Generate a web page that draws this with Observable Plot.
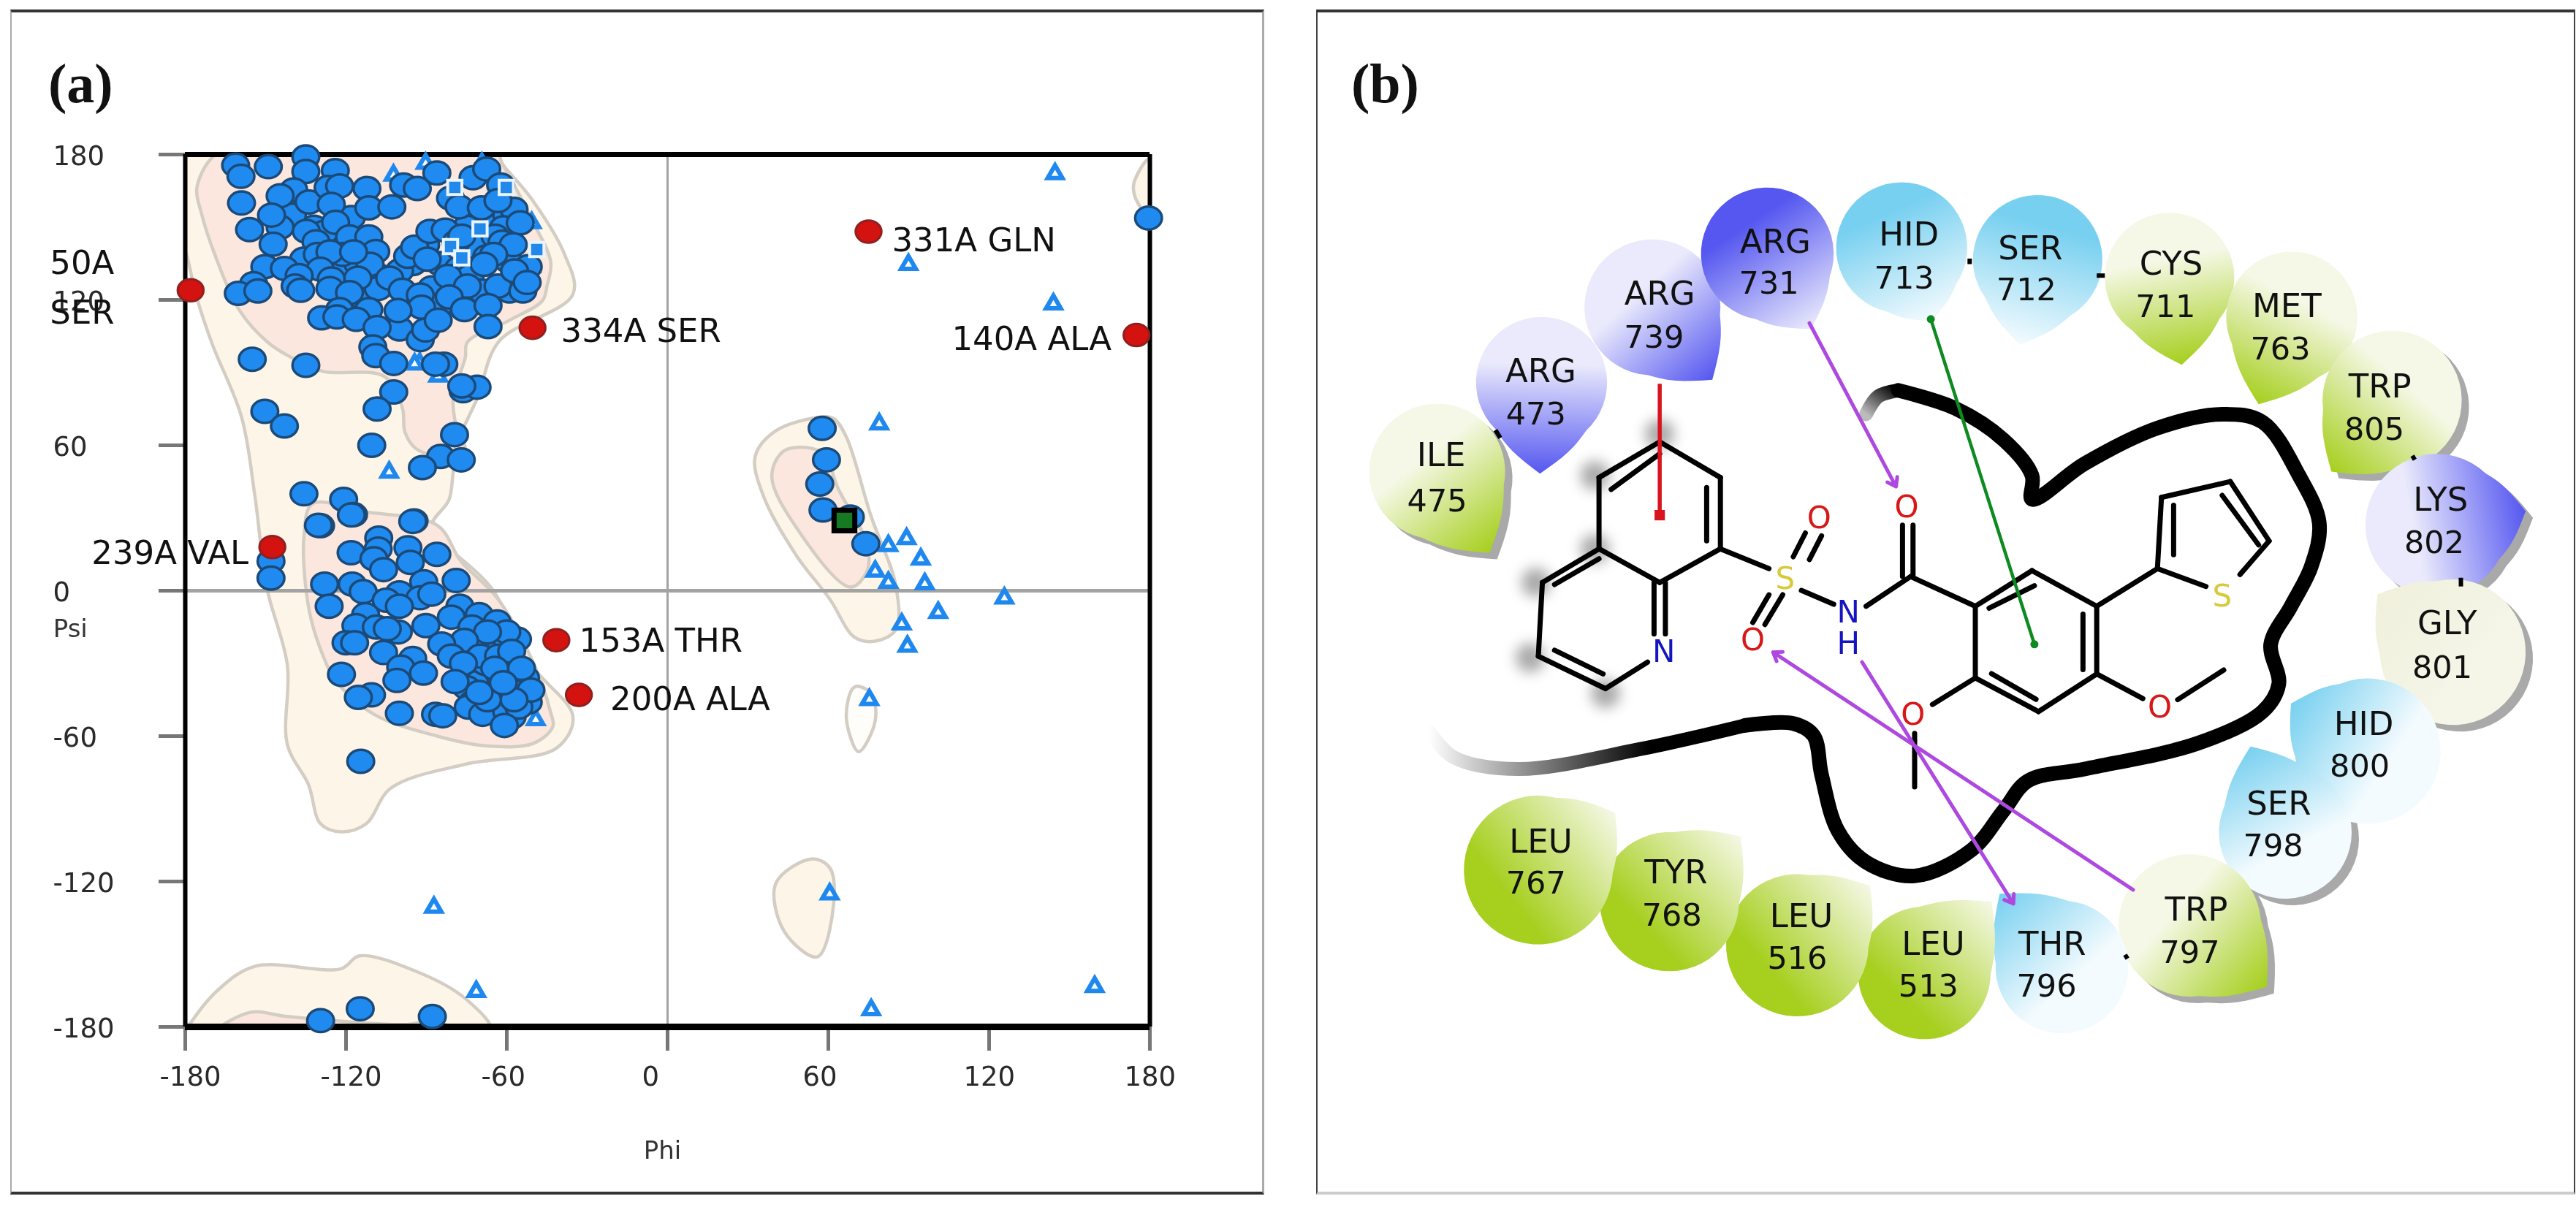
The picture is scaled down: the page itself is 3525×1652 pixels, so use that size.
<!DOCTYPE html>
<html><head><meta charset="utf-8">
<script src="https://cdn.jsdelivr.net/npm/d3@7"></script>
<script src="https://cdn.jsdelivr.net/npm/@observablehq/plot@0.6"></script>
<style>
html,body{margin:0;background:#fff;width:3525px;height:1652px;overflow:hidden}
.p{position:absolute;box-sizing:border-box}
.h{position:absolute;font:bold 76px "Liberation Serif";color:#111;line-height:76px}
svg{filter:blur(.7px)}
</style></head><body>
<div class="p" style="left:14px;top:13px;width:1716px;height:1622px;border-top:4px solid #333;border-bottom:4px solid #333;border-left:2px solid #aaa;border-right:3px solid #aaa"></div>
<div class="p" style="left:1801px;top:13px;width:1723px;height:1622px;border-top:4px solid #333;border-bottom:4px solid #ccc;border-left:2px solid #444;border-right:2px solid #444"></div>
<div class="h" style="left:66px;top:76px">(a)</div>
<div class="h" style="left:1849px;top:76px">(b)</div>
<div id="a" class="p" style="left:0;top:0"></div>
<div id="b" class="p" style="left:1800px;top:0"></div>
<script>
// ---- Panel (a): Ramachandran plot (phi, psi in degrees) ----
const axisTicks = [-180,-120,-60,0,60,120,180];
const generalLeft = [[-181,182],[-181,141],[-180,140],[-176,122],[-170,102],[-159,71.7],[-154,39],[-149.6,1.5],[-141.9,-30.7],[-141.9,-63.5],[-134,-80],[-129.5,-96.2],[-121.8,-99.5],[-112.5,-96.2],[-103.3,-81.5],[-75.5,-71.6],[-41.5,-65],[-35.3,-52],[-50.7,-30.7],[-66,1.5],[-84.7,21],[-87.8,27.6],[-81.6,37.4],[-80,48.9],[-78,62],[-70.8,80],[-63,102.8],[-35.3,122.4],[-38.4,138.7],[-50.7,161.6],[-63,178],[-64.6,182]];
const favouredBeta = [[-171,177.5],[-175.7,165.9],[-174,155.9],[-169,138.8],[-159.7,115.6],[-149.3,102.6],[-141,96.6],[-128.6,90.5],[-105.8,88.5],[-99,75.5],[-98,65.4],[-94,58.7],[-84.7,55.4],[-75.5,57],[-79,68.5],[-80,80],[-75.5,96.2],[-74.7,102.6],[-59,111.6],[-46.7,119.7],[-45,125.7],[-43.6,135.7],[-50,151.8],[-58,169],[-62,177],[-64,182],[-165,182]];
const favouredAlpha = [[-135.7,22.2],[-135.3,4.2],[-133,-12],[-128.5,-27],[-124,-37],[-109.6,-51],[-86,-60],[-68,-64],[-50,-63],[-42.8,-56],[-43.7,-50],[-50,-30],[-63.6,-3],[-77,12],[-86,27],[-112.5,32.5],[-132.6,35.8]];
const generalLeftHand = [[57.4,71.7],[40.4,66],[32.7,55.4],[35.8,39],[48.1,14.5],[60.5,-3.4],[69.8,-19.2],[77.5,-20.8],[85.2,-16],[85.2,2],[75.9,30.9],[66.7,63.5],[62,71]];
const favouredLeftHand = [[54.3,58.6],[43.5,57.8],[38.9,47.2],[48.1,26],[68.2,1.5],[74.4,8],[74.4,19.4],[63.6,42.3],[59,55.4]];
const contourSmall = [[69.8,-39.7],[66.7,-52],[71.3,-66.4],[77.5,-53.6],[75.9,-42.2]];
const contourTurn = [[53.7,-110.7],[40.4,-120.8],[43.5,-140.5],[55.9,-151.1],[62,-129],[60.5,-114.3]];
const generalBottom = [[-180,-182],[-179,-180],[-168,-165],[-154,-155],[-121.8,-156],[-115,-150.7],[-94,-157],[-75.5,-168.3],[-66,-182]];
const favouredBottom = [[-168,-182],[-155.8,-174],[-142,-175.7],[-97,-179],[-87.8,-177.4],[-78.5,-182]];
const contourCorner = [[179.5,178],[174,168],[174.8,161.6],[179.5,155]];

const nonGlyDots = [[-95,135],[-100,132],[-88,125],[-85,135],[-78,133],[-72,142],[-66,152],[-60,155],[-108,130],[-132,150],[-140,155],[-128,148],[-118,154],[-85,118],[-100,108],[-75,150],
[-62,-35],[-58,-30],[-56,-38],[-65,-40],[-60,-43],[-53,-36],[-66,-36],[-72,-38],[-68,-30],[-55,-42],[-62,-48],[-66,-50],[-58,-52],[-75,-40],[-52,-46],[-64,-22],[-60,-20],[-72,-22],[-56,-20],
[-161.2,175.6],[-159.2,171],[-149,175],[-135,179],[-135,173],[-124,173.4],[-159,160],[-139.5,165.4],[-144.6,163],[-133.8,160.4],[-126.7,166.4],[-122.4,167],[-112.2,166],[-125.5,159.4],[-111.5,158],[-102.9,158.4],[-98.5,167.4],[-93.4,166],[-86.1,172.4],[-72.6,170.4],[-67.5,174],[-62.3,167.4],[-81,162],[-77.8,158.4],[-69.5,158],[-57.3,157.4],[-63.3,161],
[-156,149],[-144.6,150],[-147.8,155],[-134.8,148.3],[-147.2,143],[-123.9,152],[-118.7,146],[-111.5,146],[-131.2,144],[-108.9,140],[-135.8,136.8],[-130.7,138.8],[-150.3,133.7],[-143,133],[-123.9,132],[-115.6,135],[-111,134.7],[-121.3,138.8],
[-126,139.8],[-117.2,139.8],[-129.6,132.7],[-125.5,128.7],[-90.3,142.8],[-73.7,129.7],[-67.5,137.8],[-59.2,135.8],[-52,133.7],[-61.2,149.8],[-55,151.8],[-137.5,130],[-69.5,123.7],[-59,123.7],[-115,121.7],[-108,124.7],
[-154.5,126.7],[-160.2,122.7],[-152.9,123.7],[-139,125.7],[-136.9,124],[-126,124.7],[-115.6,129],[-118.7,123],[-103.7,129],[-97,138],[-94.4,141.8],[-89.7,136.8],[-88.7,148.3],[-83,148.8],[-78.9,143.8],[-76.8,146.3],[-64.4,146.3],[-61.8,143.8],[-57.6,142.8],[-64.9,138.8],[-68.5,134.7],[-82,129.7],[-74.7,125.7],[-81.5,121.2],[-63.3,125.7],[-57.1,132],[-54,123.7],[-52.4,127.2],
[-99,124],[-92.3,122],[-91.8,117],[-100.6,115.6],[-111.5,116],[-122.4,116],[-129.1,112.6],[-123.4,113],[-116.2,112],[-108.4,108.6],[-110,100.6],[-108.9,97],[-102.2,93.8],[-92.3,103.6],[-90.3,107.6],[-85.6,111.6],[-75.8,116],[-67,117.7],[-67,109],[-83.5,93.5],[-86.6,93.5],[-76.3,82.5],[-71.1,84],[-76.8,84.5],[-102.2,82],[-108.4,75],[-150.3,74],[-143,68],[-155,95.5],[-135,93],
[-79.5,64.4],[-110.4,60],[-84.7,55.4],[-77,54],[-91.5,50.8],[-135.7,40],[-120.9,37.7],[-117.2,31.4],[-129.5,26.8],[-94.6,28.8],[-148,12.2],[-148,5.2],
[-130.3,27],[-118,31.3],[-95.1,28.6],[-107.8,21.7],[-108,17.2],[-118.1,15.7],[-96.9,17.7],[-86.1,15],[-109.6,13.2],[-96,11.7],[-106,8.7],[-91,3.7],[-78.9,4.2],[-128,2.7],[-117.7,2.7],[-113.6,-0.4],[-100.1,-0.9],[-105,-3.9],[-92.4,-2.9],[-88,-1.4],[-100.1,-6.4],[-126.3,-6.4],[-77.5,-6.4],[-112.7,-9.9],[-80.7,-10.9],[-116.3,-14.4],[-108.7,-15],[-100.5,-17],[-104.6,-15.7],[-90.2,-14.4],
[-70.3,-9.9],[-73,-15],[-63.6,-12.9],[-60,-17],[-67.2,-17],[-75.8,-20.5],[-84.3,-22],[-120,-21.5],[-116.8,-21.5],[-106,-25.5],[-69.9,-27],[-63.1,-27],[-58.2,-25],[-80.7,-27],[-76.2,-30],[-95.1,-28],[-99.6,-31.5],[-91.1,-34],[-101,-37],[-121.7,-34.5],[-54.5,-32],[-64.5,-32],[-79.3,-37.5],[-72.6,-46],[-74.4,-48],[-69,-51],[-60,-50],[-55.5,-48],[-60.9,-55.6],[-51,-41],[-57.3,-45],[-67.2,-45],[-70.3,-42],[-61.3,-38],[-110.5,-43],[-115.4,-44],[-100.1,-50.6],[-86.6,-51],[-83.9,-51.6],[-114.5,-70.4],
[-129.5,-177.4],[-114.7,-172.5],[-87.8,-175.7],
[57.7,67],[59.3,54],[56.8,44],[58,33.3],[68.2,30.4],[74,19.4],[179.5,153.8]];
const glyTriangles = [[-102.3,171.4],[-90.3,176.3],[-69.3,176.3],[144.6,172],[89.9,134.6],[144,118.3],[79,68.8],[-50.7,151.8],[-51,133.7],[-92.5,93.8],[-94.4,93.5],[-85.6,88.5],[-103.9,48.9],[82.4,18.6],[89.2,21.4],[94.5,13],[77.5,8],[82.4,3.4],[96,2.8],[125.7,-3.1],[101,-9],[87.4,-13.8],[89.5,-23],[75.3,-45],[-49.2,-53.3],[60.5,-125.2],[-87.2,-130.7],[-71.4,-165.4],[159.4,-163.4],[76,-173]];
const proSquares = [[-79.4,166.4],[-60.2,166.4],[-70,149.3],[-81,142],[-76.8,137.3],[-48.8,140.8]];
const ligandSquare = [[66,29]];
const outliers = [[-178,124],[-50.4,108.5],[75,148.2],[175,105.5],[-147.5,18],[-41.5,-20.4],[-33.1,-43]];
const outlierLabels = [
 {t:"334A SER",phi:-39.8,psi:107,a:"start"},{t:"331A GLN",phi:83.7,psi:144.4,a:"start"},
 {t:"140A ALA",phi:165.7,psi:103.7,a:"end"},{t:"239A VAL",phi:-156.4,psi:15.4,a:"end"},
 {t:"153A THR",phi:-33,psi:-20.8,a:"start"},{t:"200A ALA",phi:-21.4,psi:-44.9,a:"start"},
 {t:"50A",phi:-230.5,psi:135,a:"start"},{t:"SER",phi:-230.5,psi:114.5,a:"start"}];

const ff = "DejaVu Sans";
// Source markers are slightly wider than tall
const ellipse = {draw(c,size){const r=Math.sqrt(size/Math.PI),a=r*1.074,b=r*.926,k=.5523;
  c.moveTo(a,0);c.bezierCurveTo(a,b*k,a*k,b,0,b);c.bezierCurveTo(-a*k,b,-a,b*k,-a,0);c.bezierCurveTo(-a,-b*k,-a*k,-b,0,-b);c.bezierCurveTo(a*k,-b,a,-b*k,a,0);c.closePath();}};
const region = (d,fill,stroke=true) => Plot.line(d,{x:"0",y:"1",curve:"catmull-rom-closed",fill,stroke:stroke?"#d3cdc4":"none",strokeWidth:4.5,clip:true});
const ax = Plot.plot({
  width:1780,height:1652,marginLeft:253,marginRight:207,marginTop:211,marginBottom:247,
  x:{domain:[-180,180]},y:{domain:[-180,180]},
  style:{fontFamily:ff,background:"transparent",overflow:"visible"},
  marks:[
    region(generalLeft,"#fdf6e8"),region(favouredBeta,"#fbe7dd"),region(favouredAlpha,"#fbe7dd"),
    region(generalLeftHand,"#fdf6e8"),region(favouredLeftHand,"#fbe7dd"),
    region(generalBottom,"#fdf6e8"),region(favouredBottom,"#fbe7dd"),
    region(contourSmall,"#fffdf9"),region(contourTurn,"#fdf6e8"),region(contourCorner,"#fdf6e8"),
    Plot.ruleX([0],{stroke:"#a3a3a3",strokeWidth:3}),
    Plot.ruleY([0],{stroke:"#a3a3a3",strokeWidth:5}),
    Plot.axisX(axisTicks,{anchor:"bottom",label:null,tickSize:33,stroke:"#777",strokeWidth:5,fill:"none"}),
    Plot.axisY(axisTicks,{anchor:"left",label:null,tickSize:36,stroke:"#777",strokeWidth:5,fill:"none"}),
    Plot.axisX(axisTicks,{anchor:"bottom",label:null,tickSize:0,tickPadding:0,fontSize:37,lineAnchor:"middle",textAnchor:"start",dx:-35,dy:69,tickFormat:d=>String(d),fill:"#2a2a2a"}),
    Plot.axisY(axisTicks,{anchor:"left",label:null,tickSize:0,tickPadding:0,fontSize:37,lineAnchor:"middle",textAnchor:"start",dx:-181,dy:3,tickFormat:d=>String(d),fill:"#2a2a2a"}),
    Plot.ruleX([-180,180],{stroke:"#000",strokeWidth:6}),
    Plot.ruleY([180],{stroke:"#000",strokeWidth:7}),
    Plot.ruleY([-180],{stroke:"#000",strokeWidth:9}),
    Plot.dot(glyTriangles,{x:"0",y:"1",symbol:"triangle",r:7.5,fill:"#f4faff",stroke:"#1f88ee",strokeWidth:6,strokeLinejoin:"miter"}),
    Plot.dot(nonGlyDots,{x:"0",y:"1",symbol:ellipse,r:17,fill:"#1f8bf0",stroke:"#1c4a78",strokeWidth:3.5}),
    Plot.dot(proSquares,{x:"0",y:"1",symbol:"square",r:11,fill:"#2289ea",stroke:"#e9f4fe",strokeWidth:4}),
    Plot.dot(outliers,{x:"0",y:"1",symbol:ellipse,r:16.5,fill:"#d4120f",stroke:"#8f2020",strokeWidth:3}),
    Plot.dot(ligandSquare,{x:"0",y:"1",symbol:"square",r:16,fill:"#157a22",stroke:"#000",strokeWidth:7,strokeLinejoin:"miter"}),
    Plot.text(outlierLabels.filter(d=>d.a==="start"),{x:"phi",y:"psi",text:"t",textAnchor:"start",fontSize:45,fill:"#111"}),
    Plot.text(outlierLabels.filter(d=>d.a==="end"),{x:"phi",y:"psi",text:"t",textAnchor:"end",fontSize:45,fill:"#111"}),
    Plot.text(["Psi"],{x:[-229.3],y:[-16],text:d=>d,textAnchor:"start",fontSize:34,fill:"#333"}),
    Plot.text(["Phi"],{x:[-1.9],y:[-231],text:d=>d,fontSize:34,fill:"#333"})
  ]
});
document.getElementById("a").append(ax);

// ---- Panel (b): ligand interaction diagram ----
// name, number, kind, dir (where the saturated colour sits), cx, cy, rx, tipX, tipY, shadow, label x1,y1,x2,y2
const residues = [
 ["ILE","475","green","tip",150,1190,84,215,1395,1,155,1150,150,1265],
 ["ARG","473","purple","tip",279,965,81,277,1195,0,278,937,272,1045],
 ["ARG","739","purple","tip",416,775,84,490,958,0,425,742,418,852],
 ["ARG","731","purple","far",558,640,82,612,830,0,568,610,560,715],
 ["HID","713","cyan","far",724,625,81,760,810,0,733,593,727,703],
 ["SER","712","cyan","far",892,655,80,870,870,0,883,627,878,732],
 ["CYS","711","green","tip",1055,700,80,1070,920,0,1057,667,1050,775],
 ["MET","763","green","tip",1206,800,81,1165,1020,0,1200,773,1192,882],
 ["TRP","805","green","tip",1330,1010,86,1255,1190,1,1315,977,1308,1085],
 ["LYS","802","purple","tip",1385,1325,88,1495,1290,1,1390,1262,1382,1370],
 ["GLY","801","beige","tip",1405,1646,90,1312,1500,1,1398,1574,1392,1686],
 ["HID","800","cyan","tip",1300,1896,90,1205,1776,0,1295,1828,1290,1934],
 ["SER","798","cyan","tip",1198,2101,82,1155,1884,1,1190,2029,1183,2136],
 ["TRP","797","green","tip",1080,2336,88,1175,2491,1,1088,2298,1080,2406],
 ["THR","796","cyan","tip",922,2441,82,845,2256,0,910,2383,903,2491],
 ["LEU","513","green","far",752,2456,82,835,2276,0,763,2384,757,2491],
 ["LEU","516","green","far",595,2386,88,685,2236,0,600,2314,595,2421],
 ["TYR","768","green","far",437,2276,86,525,2111,0,445,2204,440,2311],
 ["LEU","767","green","far",275,2196,92,370,2051,0,278,2126,272,2231]
];
const shades = {green:["#a6cf1e","#f5f8e6"],purple:["#5557f0","#eaeafc"],cyan:["#78d0f0","#f4fbfe"],beige:["#f0f0dc","#f5f5e8"]};
const pocketMain = [[720,985],[790,1030],[850,1110],[885,1200],[885,1260],[950,1170],[1040,1080],[1120,1045],[1170,1065],[1215,1200],[1240,1320],[1230,1430],[1205,1530],[1180,1626],[1190,1726],[1170,1796],[1090,1876],[950,1941],[880,1971],[850,2046],[810,2146],[740,2211],[680,2176],[645,2096],[625,1956],[615,1856],[590,1826],[530,1831]];
const pocketTailLeft = [[530,1831],[400,1891],[250,1941],[170,1911],[140,1846]];
const pocketTailTop = [[720,985],[695,1000],[680,1045]];
const bonds = [[425,1115,350,1205],[425,1145,365,1235],[350,1205,350,1385],[350,1385,425,1470],[425,1470,500,1385],[500,1385,500,1205],[483,1365,483,1230],[500,1205,425,1115],
 [350,1385,280,1470],[350,1410,295,1475],[280,1470,275,1656],[275,1656,358,1738],[295,1641,355,1701],[358,1738,410,1671],[418,1470,418,1600],[432,1470,432,1600],
 [500,1385,560,1435],[590,1405,605,1345],[610,1412,625,1352],[577,1501,555,1576],[560,1501,540,1571],[600,1490,640,1525],[680,1530,735,1455],[725,1455,725,1325],[738,1455,738,1325],[735,1455,815,1530],
 [815,1530,885,1440],[832,1535,888,1478],[885,1440,965,1530],[965,1530,965,1701],[948,1550,948,1690],[965,1701,893,1796],[893,1796,815,1711],[835,1700,890,1765],[815,1711,815,1530],
 [965,1530,1040,1435],[1040,1435,1045,1255],[1060,1275,1060,1400],[1045,1255,1130,1215],[1130,1215,1178,1365],[1120,1250,1165,1375],[1178,1365,1142,1450],[1040,1435,1100,1480],
 [965,1701,1022,1763],[1065,1766,1122,1691],[815,1711,762,1778],[740,1851,740,1986]].map(([x1,y1,x2,y2])=>({x1,y1,x2,y2}));
const ringHalo = [[425,1095],[345,1200],[345,1385],[272,1470],[265,1660],[358,1750]];
const atoms = [["S",580,1462,"#d8c93a"],["O",622,1308,"#d81818"],["O",730,1280,"#d81818"],["N",658,1546,"#1414c0"],["H",658,1625,"#1414c0"],["O",540,1616,"#d81818"],["N",430,1646,"#1414c0"],["S",1120,1506,"#d8c93a"],["O",738,1804,"#d81818"],["O",1043,1786,"#d81818"]];
const connectors = [[222,1085,228,1105],[808,652,808,666],[965,695,975,695],[1355,1150,1358,1160],[1415,1458,1415,1480],[1000,2410,1003,2420]].map(([x1,y1,x2,y2])=>({x1,y1,x2,y2}));
const piLines = [{x1:425,y1:968,x2:425,y2:1300}];
const pstack = [{x1:760,y1:805,x2:888,y2:1626}];
const hbonds = [{x1:610,y1:815,x2:717,y2:1228},{x1:675,y1:1671,x2:862,y2:2281},{x1:1010,y1:2246,x2:565,y2:1646}];

const KX=.903, KY=1.845;
function drop(r,ox=0,oy=0){
  const [,,,,cx,cy,rx,tx,ty]=r;
  const C=[cx/KX,cy/KY],T=[tx/KX,ty/KY],R=rx/KX;
  const d=Math.hypot(T[0]-C[0],T[1]-C[1]),a=Math.atan2(T[1]-C[1],T[0]-C[0]),b=Math.acos(Math.min(.99,R/d));
  const pts=[];
  const t1=[C[0]+R*Math.cos(a+b),C[1]+R*Math.sin(a+b)];
  const t2=[C[0]+R*Math.cos(a-b),C[1]+R*Math.sin(a-b)];
  const steps=8;
  for(let i=0;i<=steps;i++){const t=i/steps,m=Math.sin(Math.PI*t)*.1*d,nx=Math.cos(a+Math.PI/2),ny=Math.sin(a+Math.PI/2);
    pts.push([T[0]+(t1[0]-T[0])*t+nx*m*.55,T[1]+(t1[1]-T[1])*t+ny*m*.55]);}
  const N=40,span=2*Math.PI-2*b;
  for(let i=1;i<N;i++){const g=a+b+span*i/N;pts.push([C[0]+R*Math.cos(g),C[1]+R*Math.sin(g)]);}
  for(let i=0;i<=steps;i++){const t=i/steps,m=Math.sin(Math.PI*t)*.1*d,nx=Math.cos(a-Math.PI/2),ny=Math.sin(a-Math.PI/2);
    pts.push([t2[0]+(T[0]-t2[0])*t+nx*m*.55,t2[1]+(T[1]-t2[1])*t+ny*m*.55]);}
  return pts.map(p=>({x:(p[0]+ox)*KX,y:(p[1]+oy)*KY}));
}
function gradients(){
  const ns="http://www.w3.org/2000/svg",defs=document.createElementNS(ns,"defs");let h="";
  residues.forEach((r,i)=>{
    const pts=drop(r),[cx,cy,rx,tx,ty]=r.slice(4,9);
    const xe=d3.extent(pts,p=>p.x),ye=d3.extent(pts,p=>p.y);
    const dd=Math.hypot((tx-cx)/KX,(ty-cy)/KY),ex=(tx-cx)/KX/dd,ey=(ty-cy)/KY/dd;
    const fx=cx-ex*(rx/KX)*KX,fy=cy-ey*(rx/KX)*KY;
    const u=v=>(v-xe[0])/(xe[1]-xe[0]),w=v=>(v-ye[0])/(ye[1]-ye[0]);
    const [sat,pale]=shades[r[2]];
    const [c1,c2]=r[3]==="tip"?[pale,sat]:[sat,pale];
    h+=`<linearGradient id="g${i}" x1="${u(fx)}" y1="${w(fy)}" x2="${u(tx)}" y2="${w(ty)}"><stop offset="0" stop-color="${c1}"/><stop offset="${r[3]==="tip"?.3:.2}" stop-color="${c1}"/><stop offset="1" stop-color="${c2}"/></linearGradient>`;
  });
  h+=`<linearGradient id="fadeL" x1="1" y1="0" x2="0" y2="0"><stop offset="0.3" stop-color="#000"/><stop offset="1" stop-color="#fff"/></linearGradient>`;
  h+=`<linearGradient id="fadeT" x1="1" y1="0" x2="0" y2="1"><stop offset="0" stop-color="#000"/><stop offset="1" stop-color="#bbb"/></linearGradient>`;
  defs.innerHTML=h;return defs;
}
const bx = Plot.plot({
  width:1725,height:1652,margin:0,
  x:{domain:[0,1725*KX],axis:null},y:{domain:[1652*KY,0],axis:null},
  style:{fontFamily:ff,background:"transparent",overflow:"visible"},
  marks:[
    gradients,
    Plot.dot(ringHalo,{x:"0",y:"1",r:20,fill:"#aaa",imageFilter:"blur(9px)"}),
    Plot.line(pocketTailLeft,{x:"0",y:"1",curve:"catmull-rom",stroke:"url(#fadeL)",strokeWidth:19}),
    Plot.line(pocketTailTop,{x:"0",y:"1",curve:"catmull-rom",stroke:"url(#fadeT)",strokeWidth:19}),
    Plot.line(pocketMain,{x:"0",y:"1",curve:"catmull-rom",stroke:"#000",strokeWidth:20}),
    ...residues.filter(r=>r[9]).map(r=>Plot.line(drop(r,10,9),{x:"x",y:"y",fill:"#a9a9a9",stroke:"none"})),
    ...residues.map((r,i)=>Plot.line(drop(r),{x:"x",y:"y",fill:`url(#g${i})`,stroke:"none"})),
    Plot.link(connectors,{x1:"x1",y1:"y1",x2:"x2",y2:"y2",stroke:"#000",strokeWidth:6}),
    Plot.link(bonds,{x1:"x1",y1:"y1",x2:"x2",y2:"y2",stroke:"#000",strokeWidth:7,strokeLinecap:"round"}),
    Plot.link(piLines,{x1:"x1",y1:"y1",x2:"x2",y2:"y2",stroke:"#d8141e",strokeWidth:5.5}),
    Plot.dot(piLines,{x:"x2",y:"y2",symbol:"square",r:8,fill:"#d8141e"}),
    Plot.link(pstack,{x1:"x1",y1:"y1",x2:"x2",y2:"y2",stroke:"#0d8a20",strokeWidth:4.5}),
    Plot.dot(pstack,{x:"x1",y:"y1",r:5.5,fill:"#0d8a20"}),
    Plot.dot(pstack,{x:"x2",y:"y2",r:5.5,fill:"#0d8a20"}),
    Plot.arrow(hbonds,{x1:"x1",y1:"y1",x2:"x2",y2:"y2",stroke:"#ad48e0",strokeWidth:5,bend:0,headLength:4,headAngle:70}),
    Plot.text(residues,{x:r=>r[10],y:r=>r[11],text:r=>r[0],fontSize:45,fill:"#111"}),
    Plot.text(residues,{x:r=>r[12],y:r=>r[13],text:r=>r[1],fontSize:43,fill:"#111"}),
    ...["#d8c93a","#d81818","#1414c0"].map(c=>Plot.text(atoms.filter(a=>a[3]===c),{x:"1",y:"2",text:"0",fontSize:42,fill:c}))
  ]
});
document.getElementById("b").append(bx);
</script></body></html>
